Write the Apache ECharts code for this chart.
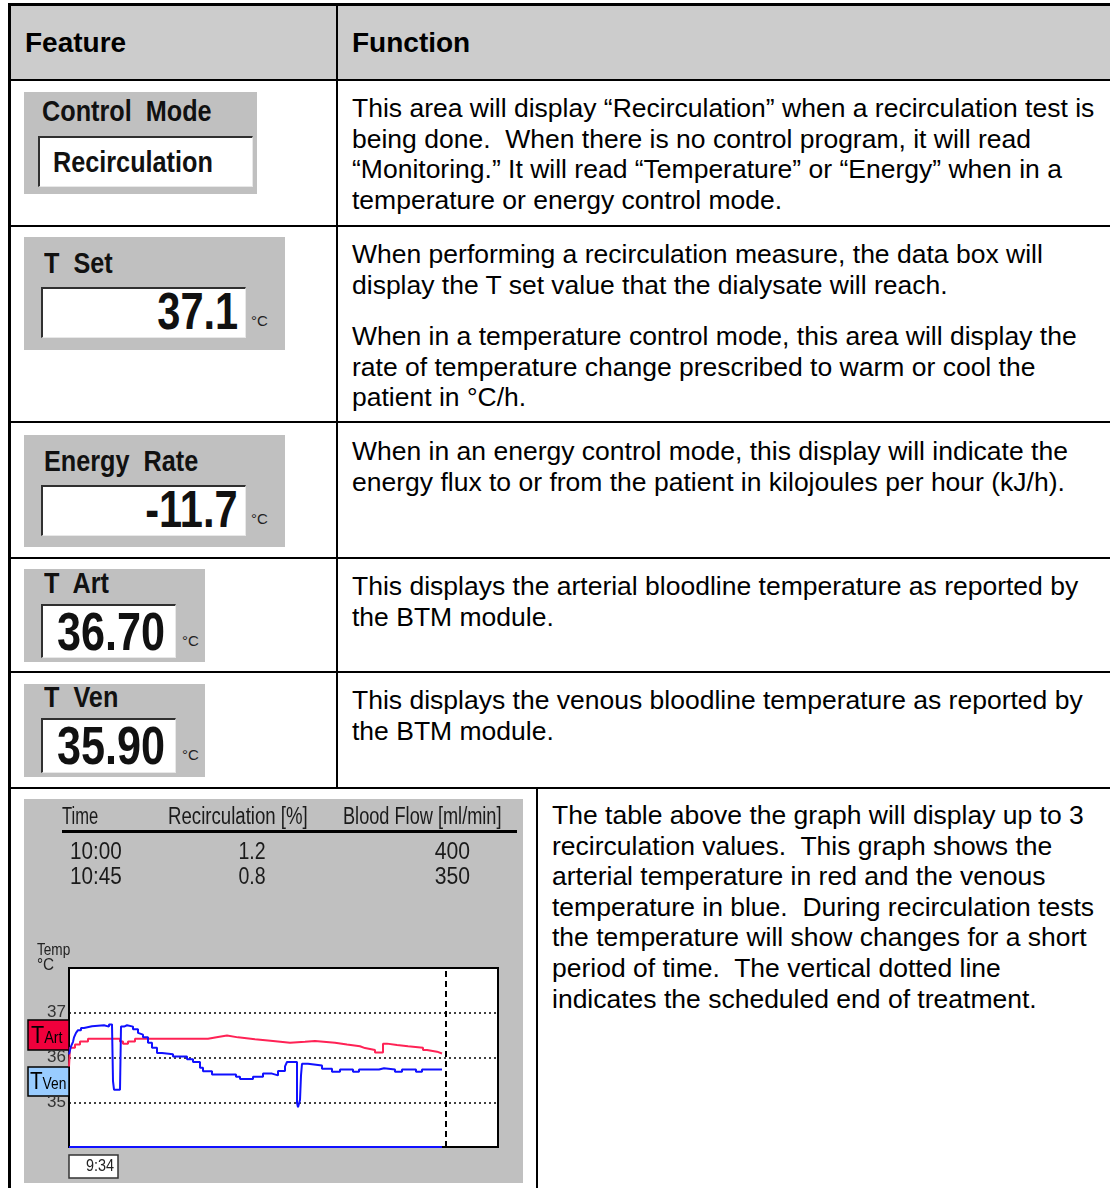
<!DOCTYPE html>
<html>
<head>
<meta charset="utf-8">
<script src="https://cdn.jsdelivr.net/npm/echarts@6/dist/echarts.min.js"></script>
<style>
  html, body { margin:0; padding:0; background:#fff; }
  body { width:1110px; height:1188px; position:relative; overflow:hidden; font-family:"Liberation Sans", Arial, sans-serif; }
  .ln { position:absolute; background:#000; }
  .hdr { position:absolute; top:4px; height:76px; left:10px; width:1100px; background:#cccccc; }
  .ht { position:absolute; font-weight:bold; font-size:28px; line-height:34px; color:#000; }
  .p { position:absolute; font-size:26.5px; line-height:30.6px; white-space:pre; color:#000; }
  .w { position:absolute; background:#c0c0c0; }
  .wl { position:absolute; font-family:"Liberation Sans",Arial,sans-serif; font-weight:bold; font-size:29px; white-space:pre; color:#111; transform:scaleX(0.87); transform-origin:0 50%; }
  .bx { position:absolute; background:#fff; border-top:2px solid #303030; border-left:2px solid #303030; border-right:1px solid #e8e8e8; border-bottom:1px solid #e8e8e8; box-sizing:border-box; }
  .num { position:absolute; font-family:"Liberation Sans",Arial,sans-serif; font-weight:bold; font-size:52px; white-space:pre; color:#111; transform:scaleX(0.8); }
  .deg { position:absolute; font-family:"Liberation Sans",Arial,sans-serif; font-size:15px; color:#222; }
  #chart { position:absolute; left:24px; top:799px; width:499px; height:384px; }
</style>
</head>
<body>
<div class="hdr"></div>
<!-- table lines -->
<div class="ln" style="left:8px;top:3px;width:1102px;height:3px"></div>
<div class="ln" style="left:8px;top:79px;width:1102px;height:2px"></div>
<div class="ln" style="left:8px;top:225px;width:1102px;height:2px"></div>
<div class="ln" style="left:8px;top:421px;width:1102px;height:2px"></div>
<div class="ln" style="left:8px;top:557px;width:1102px;height:2px"></div>
<div class="ln" style="left:8px;top:671px;width:1102px;height:2px"></div>
<div class="ln" style="left:8px;top:787px;width:1102px;height:2px"></div>
<div class="ln" style="left:8px;top:3px;width:3px;height:1185px"></div>
<div class="ln" style="left:336px;top:3px;width:2px;height:786px"></div>
<div class="ln" style="left:536px;top:788px;width:2px;height:400px"></div>

<div class="ht" style="left:25px;top:26px">Feature</div>
<div class="ht" style="left:352px;top:26px">Function</div>

<!-- widgets -->
<div class="w" style="left:24px;top:92px;width:233px;height:102px"></div>
<div class="wl" style="left:42px;top:93px;line-height:36px">Control  Mode</div>
<div class="bx" style="left:38px;top:136px;width:215px;height:51px"></div>
<div class="wl" style="left:53px;top:144px;line-height:36px">Recirculation</div>

<div class="w" style="left:24px;top:237px;width:261px;height:113px"></div>
<div class="wl" style="left:44px;top:245px;line-height:36px">T  Set</div>
<div class="bx" style="left:41px;top:287px;width:205px;height:51px"></div>
<div class="num" style="right:872px;top:281px;line-height:60px;transform-origin:100% 50%">37.1</div>
<div class="deg" style="left:251px;top:312px">°C</div>

<div class="w" style="left:24px;top:435px;width:261px;height:112px"></div>
<div class="wl" style="left:44px;top:443px;line-height:36px">Energy  Rate</div>
<div class="bx" style="left:41px;top:485px;width:205px;height:51px"></div>
<div class="num" style="right:872px;top:479px;line-height:60px;transform-origin:100% 50%">-11.7</div>
<div class="deg" style="left:251px;top:510px">°C</div>

<div class="w" style="left:24px;top:569px;width:181px;height:93px"></div>
<div class="wl" style="left:44px;top:565px;line-height:36px">T  Art</div>
<div class="bx" style="left:41px;top:604px;width:135px;height:54px"></div>
<div class="num" style="left:57px;top:601px;line-height:60px;font-size:54px;transform-origin:0 50%">36.70</div>
<div class="deg" style="left:182px;top:632px">°C</div>

<div class="w" style="left:24px;top:684px;width:181px;height:93px"></div>
<div class="wl" style="left:44px;top:679px;line-height:36px">T  Ven</div>
<div class="bx" style="left:41px;top:718px;width:135px;height:55px"></div>
<div class="num" style="left:57px;top:715px;line-height:60px;font-size:54px;transform-origin:0 50%">35.90</div>
<div class="deg" style="left:182px;top:746px">°C</div>

<!-- function texts -->
<div class="p" style="left:352px;top:93px">This area will display “Recirculation” when a recirculation test is
being done.  When there is no control program, it will read
“Monitoring.” It will read “Temperature” or “Energy” when in a
temperature or energy control mode.</div>
<div class="p" style="left:352px;top:239px">When performing a recirculation measure, the data box will
display the T set value that the dialysate will reach.</div>
<div class="p" style="left:352px;top:321px">When in a temperature control mode, this area will display the
rate of temperature change prescribed to warm or cool the
patient in °C/h.</div>
<div class="p" style="left:352px;top:436px">When in an energy control mode, this display will indicate the
energy flux to or from the patient in kilojoules per hour (kJ/h).</div>
<div class="p" style="left:352px;top:571px">This displays the arterial bloodline temperature as reported by
the BTM module.</div>
<div class="p" style="left:352px;top:685px">This displays the venous bloodline temperature as reported by
the BTM module.</div>
<div class="p" style="left:552px;top:800px">The table above the graph will display up to 3
recirculation values.  This graph shows the
arterial temperature in red and the venous
temperature in blue.  During recirculation tests
the temperature will show changes for a short
period of time.  The vertical dotted line
indicates the scheduled end of treatment.</div>

<div id="chart"></div>
<script>
// ---- data (time axis: elapsed units since 9:34) ----
const tableHeaders = ['Time', 'Recirculation [%]', 'Blood Flow [ml/min]'];
const recircTimes = ['10:00', '10:45'];
const recircValues = ['1.2', '0.8'];
const bloodFlows = ['400', '350'];
const startTime = '9:34';
const yTicks = [35, 36, 37];
const yMin = 34, yMax = 38;
const timeMax = 429;
const treatmentEnd = 377;

const artTime = [0, 1, 6, 11, 19, 51, 54, 59, 66, 139, 141, 149, 158, 169, 186, 204, 221, 236, 246, 266, 278, 291, 296, 306, 314, 318, 328, 339, 354, 358, 368, 373];
const artTemp = [35.80, 36.22, 36.29, 36.36, 36.42, 36.36, 36.31, 36.36, 36.42, 36.45, 36.46, 36.49, 36.45, 36.41, 36.37, 36.33, 36.35, 36.37, 36.33, 36.29, 36.25, 36.21, 36.17, 36.11, 36.31, 36.28, 36.25, 36.22, 36.17, 36.13, 36.09, 36.09];

const venTime = [0, 1, 2, 4, 5, 7, 9, 12, 15, 23, 35, 40, 43, 44, 45, 51, 52, 55, 58, 64, 69, 71, 74, 79, 83, 88, 93, 104, 118, 124, 131, 134, 143, 167, 171, 184, 194, 203, 209, 216, 218, 228, 229, 231, 232, 233, 239, 253, 263, 271, 284, 290, 310, 315, 326, 333, 347, 353, 373];
const venTemp = [36.07, 36.10, 36.25, 36.35, 36.45, 36.55, 36.61, 36.66, 36.70, 36.72, 36.69, 36.74, 36.74, 35.47, 35.28, 35.28, 36.69, 36.72, 36.69, 36.63, 36.55, 36.51, 36.45, 36.33, 36.22, 36.10, 36.07, 36.02, 35.96, 35.90, 35.77, 35.69, 35.62, 35.57, 35.52, 35.57, 35.64, 35.60, 35.70, 35.80, 35.90, 34.99, 34.89, 35.05, 35.60, 35.86, 35.82, 35.75, 35.68, 35.73, 35.68, 35.73, 35.76, 35.73, 35.68, 35.73, 35.68, 35.73, 35.73];

const baseTime = [0, 373];
const baseTemp = [34, 34];

const zip = (xs, ys) => xs.map((x, i) => [x, ys[i]]);
const FONT = '"Liberation Sans",Arial,sans-serif';

const chart = echarts.init(document.getElementById('chart'), null, { renderer: 'canvas' });

const txt = (text, x, y, opts, sx) => ({
  type: 'text', x: x, y: y, silent: true, scaleX: sx || 0.85,
  style: Object.assign({ text: text, fill: '#1a1a1a', font: '23px ' + FONT, textVerticalAlign: 'middle' }, opts || {})
});
const rich = {
  t: { fontSize: 24, fontFamily: FONT, fill: '#000' },
  s: { fontSize: 16, fontFamily: FONT, fill: '#000', padding: [6, 0, 0, 0] }
};

const graphics = [
  txt(tableHeaders[0], 38, 19, null, 0.72),
  txt(tableHeaders[1], 144, 19, null, 0.81),
  txt(tableHeaders[2], 319, 19, null, 0.79),
  { type: 'rect', shape: { x: 38, y: 31, width: 455, height: 3 }, style: { fill: '#000' }, silent: true },
  txt(recircTimes[0], 46, 54, null, 0.9),
  txt(recircTimes[1], 46, 79, null, 0.9),
  txt(recircValues[0], 228, 54, { textAlign: 'center' }),
  txt(recircValues[1], 228, 79, { textAlign: 'center' }),
  txt(bloodFlows[0], 446, 54, { textAlign: 'right' }, 0.92),
  txt(bloodFlows[1], 446, 79, { textAlign: 'right' }, 0.92),
  txt('Temp', 13, 151, { font: '17px ' + FONT, fill: '#222' }, 0.8),
  txt('°C', 13, 166, { font: '17px ' + FONT, fill: '#222' }, 0.9),
  { type: 'rect', shape: { x: 4, y: 221, width: 41, height: 30 }, style: { fill: '#f0003c', stroke: '#000', lineWidth: 1.5 }, silent: true },
  { type: 'text', x: 7, y: 237, scaleX: 0.9, silent: true, style: { text: '{t|T}{s|Art}', rich: rich, textVerticalAlign: 'middle' } },
  { type: 'rect', shape: { x: 4, y: 268, width: 41, height: 29 }, style: { fill: '#99ccff', stroke: '#000', lineWidth: 1.5 }, silent: true },
  { type: 'text', x: 6, y: 283, scaleX: 0.86, silent: true, style: { text: '{t|T}{s|Ven}', rich: rich, textVerticalAlign: 'middle' } },
  { type: 'rect', shape: { x: 45, y: 356, width: 49, height: 23 }, style: { fill: '#fff', stroke: '#333', lineWidth: 1.5 }, silent: true },
  txt(startTime, 90, 368, { font: '16px ' + FONT, fill: '#222', textAlign: 'right' }, 0.9)
];

chart.setOption({
  backgroundColor: '#c0c0c0',
  animation: false,
  grid: { left: 45, top: 169, width: 429, height: 179, show: true, backgroundColor: '#fff', borderColor: '#000', borderWidth: 2 },
  xAxis: { type: 'value', min: 0, max: timeMax, show: false },
  yAxis: {
    type: 'value', min: yMin, max: yMax, interval: 1,
    axisLine: { show: false }, axisTick: { show: false },
    axisLabel: { margin: 3, color: '#333', fontSize: 17, fontFamily: FONT, formatter: v => yTicks.includes(v) ? String(v) : '' },
    splitLine: { show: true, lineStyle: { color: '#000', type: [2, 3], width: 1.6 } }
  },
  graphic: graphics,
  series: [
    { name: 'TArt', type: 'line', step: 'end', data: zip(artTime, artTemp), showSymbol: false, lineStyle: { color: '#ff2255', width: 2 }, z: 3,
      markLine: { silent: true, symbol: 'none', label: { show: false }, lineStyle: { color: '#000', type: [6, 4], width: 2 }, data: [{ xAxis: treatmentEnd }] } },
    { name: 'TVen', type: 'line', step: 'end', data: zip(venTime, venTemp), showSymbol: false, lineStyle: { color: '#1010ff', width: 2 }, z: 4 },
    { name: 'base', type: 'line', data: zip(baseTime, baseTemp), showSymbol: false, clip: false, lineStyle: { color: '#1010ff', width: 2 }, z: 5 }
  ]
});
</script>
</body>
</html>
